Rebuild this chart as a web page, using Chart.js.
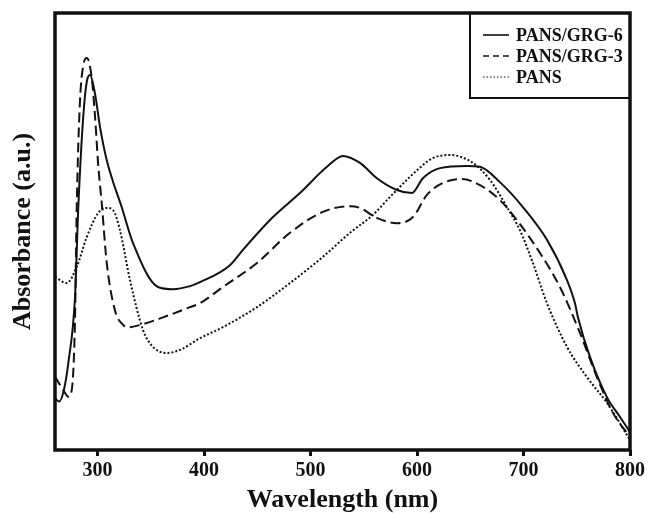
<!DOCTYPE html>
<html>
<head>
<meta charset="utf-8">
<script src="https://cdn.jsdelivr.net/npm/chart.js@4.4.0/dist/chart.umd.min.js"></script>
<style>
  body { margin: 0; background: #fff; }
</style>
</head>
<body>
<canvas id="chart1" width="649" height="513"></canvas>
<script>
// wavelength (nm) / absorbance (a.u.)
const grg6Wl = [260, 264, 268.3, 272.5, 278.8, 281.9, 286.6, 290, 292.9, 297.6, 302.3, 308.5, 314.5, 322.6, 333.2, 356.7, 370.8, 386.8, 396.2, 424.3, 436.5, 464.7, 490, 515.4, 530.4, 546.4, 562.3, 581.1, 595.2, 605.5, 621.5, 646.9, 659.1, 677.8, 699.4, 722, 740.8, 748.3, 751.1, 762.4, 778.3, 790.5, 800];
const grg6Abs = [0.118, 0.111, 0.137, 0.199, 0.350, 0.556, 0.765, 0.845, 0.858, 0.815, 0.739, 0.664, 0.614, 0.556, 0.474, 0.373, 0.368, 0.375, 0.384, 0.423, 0.458, 0.533, 0.588, 0.648, 0.673, 0.657, 0.622, 0.595, 0.588, 0.622, 0.645, 0.650, 0.648, 0.613, 0.556, 0.481, 0.389, 0.336, 0.304, 0.213, 0.121, 0.076, 0.041];

const grg3Wl = [260, 267.8, 272.5, 275.7, 278.8, 280.4, 283.5, 286.6, 289.8, 294.4, 297.6, 300.7, 303.9, 308.5, 316.3, 324.1, 328.8, 339.8, 362, 386.8, 396.2, 417.7, 449.7, 480.7, 511.6, 537, 546.4, 562.3, 581.1, 596.2, 609.3, 624.3, 642.2, 659.1, 677.8, 693.8, 715.4, 734.2, 753, 768.9, 784, 800];
const grg3Abs = [0.168, 0.137, 0.122, 0.137, 0.300, 0.556, 0.800, 0.880, 0.897, 0.854, 0.763, 0.648, 0.565, 0.430, 0.320, 0.286, 0.281, 0.286, 0.304, 0.327, 0.336, 0.373, 0.428, 0.497, 0.545, 0.558, 0.554, 0.531, 0.519, 0.533, 0.584, 0.611, 0.620, 0.606, 0.572, 0.526, 0.451, 0.373, 0.268, 0.167, 0.085, 0.030];

const pansWl = [260, 271, 280.4, 289.8, 300.4, 308.5, 314.5, 321, 330.4, 342.6, 352, 364.9, 377.4, 396.2, 417.7, 449.7, 480.7, 511.6, 537, 558.6, 574.6, 593.3, 599.9, 614.9, 630.9, 652.5, 668.5, 684.4, 696.6, 708.8, 722, 740.8, 759.5, 778.3, 800];
const pansAbs = [0.396, 0.382, 0.419, 0.487, 0.542, 0.554, 0.549, 0.503, 0.389, 0.275, 0.236, 0.222, 0.229, 0.256, 0.281, 0.327, 0.382, 0.442, 0.497, 0.538, 0.579, 0.625, 0.640, 0.668, 0.675, 0.657, 0.618, 0.556, 0.503, 0.428, 0.336, 0.236, 0.167, 0.108, 0.023];

const seriesLabels = ['PANS/GRG-6', 'PANS/GRG-3', 'PANS'];
const xTicks = [300, 400, 500, 600, 700, 800];

const ink = '#111';
const serif = "'Liberation Serif', 'Times New Roman', serif";

function toPoints(wl, abs) {
  return wl.map((w, i) => ({ x: w, y: abs[i] }));
}

// thick box round the plot area
const framePlugin = {
  id: 'frame',
  afterDraw(chart) {
    const { ctx, chartArea } = chart;
    ctx.save();
    ctx.strokeStyle = ink;
    ctx.lineWidth = 3.5;
    ctx.strokeRect(chartArea.left, chartArea.top, chartArea.right - chartArea.left, chartArea.bottom - chartArea.top);
    ctx.restore();
  }
};

// boxed legend in the top right corner
const boxLegendPlugin = {
  id: 'boxLegend',
  afterDatasetsDraw(chart) {
    const { ctx, chartArea } = chart;
    const x0 = 470, y0 = chartArea.top, x1 = chartArea.right, y1 = 98;
    ctx.save();
    ctx.fillStyle = '#fff';
    ctx.fillRect(x0, y0, x1 - x0, y1 - y0);
    ctx.strokeStyle = ink;
    ctx.lineWidth = 2;
    ctx.strokeRect(x0, y0, x1 - x0, y1 - y0);

    const rowY = [35, 56, 77];
    const sampleDash = [[], [6, 4], [1.5, 2]];
    chart.data.datasets.forEach((ds, i) => {
      ctx.beginPath();
      ctx.setLineDash(sampleDash[i]);
      ctx.lineWidth = i === 2 ? 1.2 : 1.6;
      ctx.moveTo(483, rowY[i]);
      ctx.lineTo(509, rowY[i]);
      ctx.stroke();
      ctx.setLineDash([]);
      ctx.fillStyle = ink;
      ctx.font = 'bold 18px ' + serif;
      ctx.textBaseline = 'middle';
      ctx.fillText(ds.label, 516, rowY[i] + 1);
    });
    ctx.restore();
  }
};

const config = {
  type: 'line',
  data: {
    datasets: [{
      label: seriesLabels[0],
      data: toPoints(grg6Wl, grg6Abs),
      borderColor: ink,
      borderWidth: 2,
      pointRadius: 0,
      cubicInterpolationMode: 'monotone'
    }, {
      label: seriesLabels[1],
      data: toPoints(grg3Wl, grg3Abs),
      borderColor: ink,
      borderWidth: 2,
      borderDash: [10, 5],
      pointRadius: 0,
      cubicInterpolationMode: 'monotone'
    }, {
      label: seriesLabels[2],
      data: toPoints(pansWl, pansAbs),
      borderColor: ink,
      borderWidth: 2,
      borderDash: [2, 2],
      pointRadius: 0,
      cubicInterpolationMode: 'monotone'
    }]
  },
  options: {
    responsive: false,
    animation: false,
    layout: { padding: { top: 13, right: 19, left: 0, bottom: 0 } },
    plugins: {
      legend: { display: false },
      tooltip: { enabled: false }
    },
    scales: {
      x: {
        type: 'linear',
        min: 260,
        max: 800,
        afterBuildTicks: axis => { axis.ticks = xTicks.map(v => ({ value: v })); },
        afterFit: axis => { axis.height = 63; },
        border: { display: false },
        grid: {
          drawOnChartArea: false,
          drawTicks: true,
          tickLength: 6,
          tickWidth: 3,
          tickColor: ink
        },
        ticks: {
          color: ink,
          padding: 3,
          maxRotation: 0,
          font: { family: serif, size: 20, weight: 'bold' }
        },
        title: {
          display: true,
          text: 'Wavelength (nm)',
          color: ink,
          padding: 0,
          font: { family: serif, size: 26, weight: 'bold', lineHeight: 1 }
        }
      },
      y: {
        min: 0,
        max: 1,
        afterFit: axis => { axis.width = 55; },
        border: { display: false },
        grid: { display: false },
        ticks: { display: false },
        title: {
          display: true,
          text: 'Absorbance (a.u.)',
          color: ink,
          padding: { top: 10, bottom: 0 },
          font: { family: serif, size: 26, weight: 'bold', lineHeight: 1 }
        }
      }
    }
  },
  plugins: [framePlugin, boxLegendPlugin]
};

new Chart(document.getElementById('chart1'), config);
</script>
</body>
</html>
